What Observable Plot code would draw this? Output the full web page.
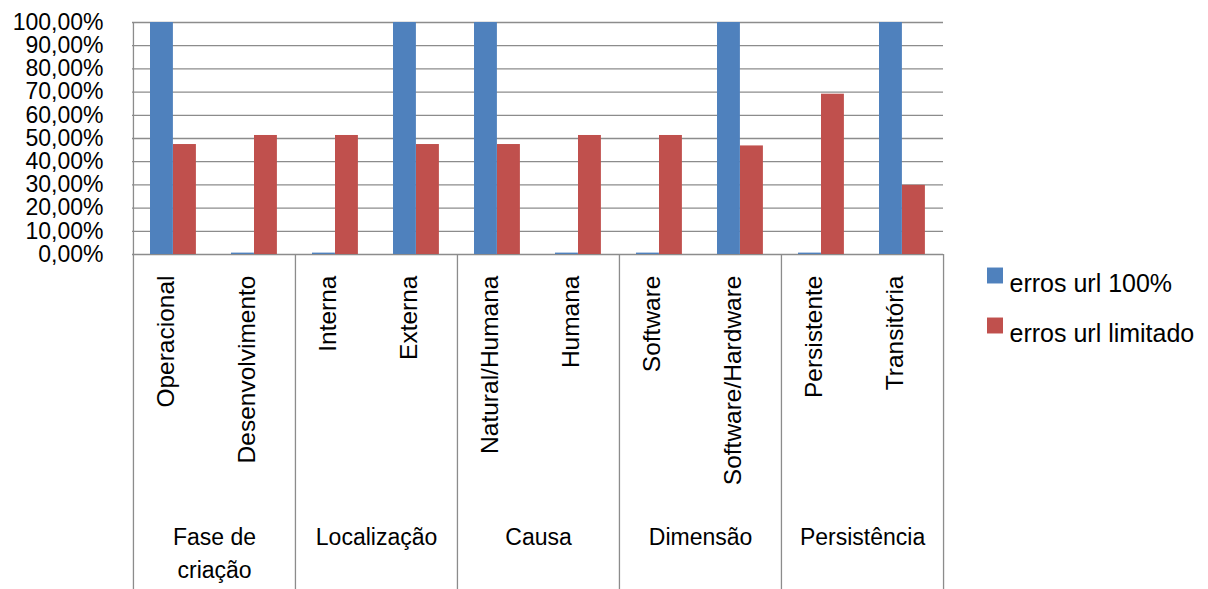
<!DOCTYPE html>
<html>
<head>
<meta charset="utf-8">
<script src="https://cdn.jsdelivr.net/npm/d3@7"></script>
<script src="https://cdn.jsdelivr.net/npm/@observablehq/plot@0.6"></script>
<style>
  html, body { margin: 0; padding: 0; background: #fff; }
  #chart svg { display: block; }
</style>
</head>
<body>
<div id="chart"></div>
<script>
const categories = ["Operacional","Desenvolvimento","Interna","Externa","Natural/Humana","Humana","Software","Software/Hardware","Persistente","Transitória"];
const groups = ["Fase de\ncriação","Localização","Causa","Dimensão","Persistência"];
const seriesNames = ["erros url 100%","erros url limitado"];
const errosUrl100 = [100, 0.6, 0.6, 100, 100, 0.6, 0.6, 100, 0.6, 100];
const errosUrlLimitado = [47.4, 51.3, 51.3, 47.4, 47.4, 51.3, 51.3, 46.8, 69.1, 29.8];
const yTicks = [0, 10, 20, 30, 40, 50, 60, 70, 80, 90, 100];

const colors = ["#4F81BD", "#C0504D"];
const font = "'Liberation Sans', Arial, sans-serif";

const W = 1208, H = 589;
const mL = 132, mR = 265, mT = 22, mB = 335;
const bw = (W - mL - mR) / categories.length;
const frameH = H - mT - mB;

const dataA = categories.map((c, i) => ({cat: c, value: errosUrl100[i]}));
const dataB = categories.map((c, i) => ({cat: c, value: errosUrlLimitado[i]}));
const groupStarts = categories.filter((_, i) => i % 2 === 0);
const groupData = groups.map((g, i) => ({group: g, first: categories[i * 2]}));

const legendMarks = seriesNames.flatMap((s, i) => [
  Plot.dot([s], {frameAnchor: "top-right", dx: 51.5, dy: 253 + i * 50, symbol: "square", r: 9, fill: colors[i], stroke: "none"}),
  Plot.text([s], {frameAnchor: "top-right", text: d => d, dx: 66, dy: 252 + i * 50, textAnchor: "start", fontSize: 25, fill: "#000"})
]);

const chart = Plot.plot({
  width: W,
  height: H,
  marginLeft: mL,
  marginRight: mR,
  marginTop: mT,
  marginBottom: mB,
  style: {fontFamily: font, fontSize: "23px", color: "#000", background: "#fff", overflow: "visible"},
  x: {type: "band", domain: categories, padding: 0, axis: null},
  y: {domain: [0, 100], ticks: yTicks, tickFormat: d => d.toFixed(2).replace(".", ",") + "%", tickSize: 0, tickPadding: 29, label: null},
  marks: [
    Plot.ruleY(yTicks, {stroke: "#8c8c8c", strokeWidth: 1.3}),
    Plot.barY(dataA, {x: "cat", y: "value", fill: colors[0], insetLeft: 17, insetRight: bw - 40}),
    Plot.barY(dataB, {x: "cat", y: "value", fill: colors[1], insetLeft: 40, insetRight: bw - 63}),
    Plot.ruleX([categories[0]], {x: d => d, dx: -bw / 2, stroke: "#8c8c8c", strokeWidth: 1.3, insetBottom: -mB}),
    Plot.ruleX(groupStarts.slice(1), {x: d => d, dx: -bw / 2, stroke: "#8c8c8c", strokeWidth: 1.3, insetTop: frameH, insetBottom: -mB}),
    Plot.ruleX([categories[categories.length - 1]], {x: d => d, dx: bw / 2, stroke: "#8c8c8c", strokeWidth: 1.3, insetTop: frameH, insetBottom: -mB}),
    Plot.text(categories, {x: d => d, text: d => d, frameAnchor: "bottom", dy: 21, rotate: -90, textAnchor: "end", fontSize: 24.5, fill: "#000"}),
    Plot.text(groupData, {x: "first", text: "group", frameAnchor: "bottom", dx: bw / 2, dy: 267, lineAnchor: "top", lineHeight: 1.43, textAnchor: "middle", fontSize: 23, fill: "#000"}),
    ...legendMarks
  ]
});

document.getElementById("chart").appendChild(chart);
</script>
</body>
</html>
